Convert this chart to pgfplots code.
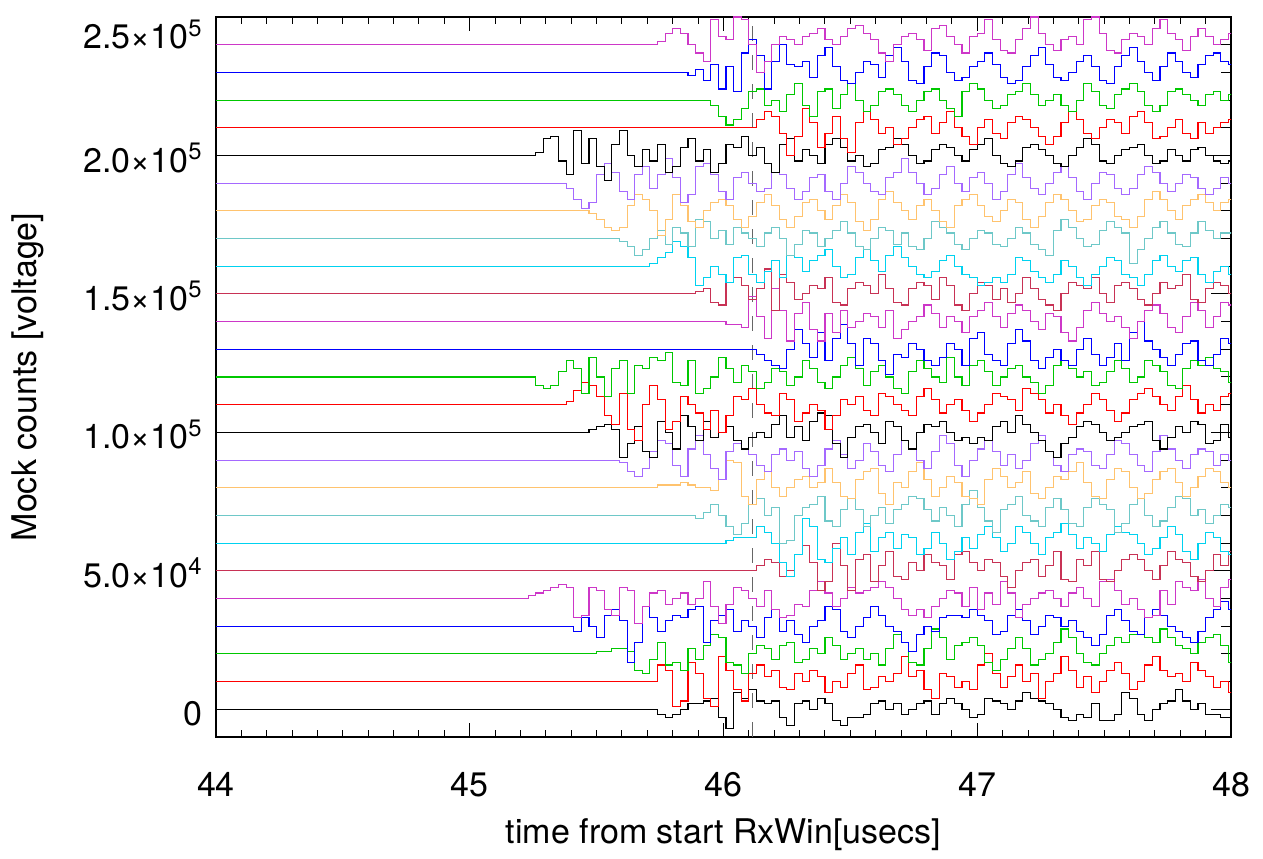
\documentclass[border=0pt]{standalone}
\usepackage{fontspec}
\setmainfont{TeX Gyre Heros}
\usepackage{pgfplots}
\usepackage{pgfplotstable}
\pgfplotsset{compat=1.18}

\definecolor{c0}{RGB}{0,0,0}
\definecolor{c1}{RGB}{255,0,0}
\definecolor{c2}{RGB}{0,200,0}
\definecolor{c3}{RGB}{0,0,255}
\definecolor{c4}{RGB}{205,55,200}
\definecolor{c5}{RGB}{200,50,85}
\definecolor{c6}{RGB}{0,210,240}
\definecolor{c7}{RGB}{110,200,200}
\definecolor{c8}{RGB}{255,195,110}
\definecolor{c9}{RGB}{165,105,255}
\newcommand\lblfont{\fontsize{17}{20}\selectfont}

% one row per trace (values in units of 1000), transposed below
\pgfplotstableread[header=false, row sep=\\]{
t 44
 45.20 45.23 45.26 45.29 45.32 45.35 45.38 45.41 45.44 45.47
 45.50 45.53 45.56 45.59 45.62 45.65 45.68 45.71 45.74 45.77
 45.80 45.83 45.86 45.89 45.92 45.95 45.98 46.01 46.04 46.07
 46.10 46.13 46.16 46.19 46.22 46.25 46.28 46.31 46.34 46.37
 46.40 46.43 46.46 46.49 46.52 46.55 46.58 46.61 46.64 46.67
 46.70 46.73 46.76 46.79 46.82 46.85 46.88 46.91 46.94 46.97
 47.00 47.03 47.06 47.09 47.12 47.15 47.18 47.21 47.24 47.27
 47.30 47.33 47.36 47.39 47.42 47.45 47.48 47.51 47.54 47.57
 47.60 47.63 47.66 47.69 47.72 47.75 47.78 47.81 47.84 47.87
 47.90 47.93 47.96 47.99
 48.05 \\
s0 0
 0 0 0 0 0 0 0 0 0 0
 0 0 0 0 0 0 0 0 -2 -3
 -2 0 2 2 3 4 -3 -7 6 4
 7 3 2 3 -3 -6 2 3 0 4
 2 -4 -6 -3 -3 -2 2 3 0 2
 -2 0 2 3 -2 2 4 2 0 -3
 -2 4 3 2 0 3 6 4 3 2
 0 -3 -4 -2 -3 2 -4 -4 -2 6
 4 -2 -4 0 2 3 7 3 0 2
 -2 -2 -3 -3
 -3 \\
s1 10
 10 10 10 10 10 10 10 10 10 10
 10 10 10 10 10 10 10 10 16 14
 1 3 17 13 4 1 19 14 7 3
 13 16 12 14 8 7 13 10 14 12
 6 10 8 13 16 7 8 12 10 13
 19 12 14 7 4 13 12 8 10 7
 16 20 13 8 12 16 10 13 4 10
 13 19 14 8 12 6 10 14 17 13
 7 10 16 19 14 12 13 10 17 14
 12 8 10 6
 6 \\
s2 20
 20 20 20 20 20 20 20 20 20 20
 21 21 22 22 21 14 13 18 24 16
 17 14 22 18 23 27 26 17 16 13
 20 23 22 18 23 24 17 18 22 20
 26 23 18 20 22 18 20 16 22 27
 24 17 16 22 29 26 18 23 24 26
 23 17 14 18 22 26 22 16 18 20
 24 29 26 20 17 16 20 23 26 24
 27 27 26 24 29 26 23 22 20 24
 26 27 23 17
 17 \\
s3 30
 30 30 30 30 30 30 30 28 33 30
 26 34 36 32 17 24 37 33 28 32
 34 33 36 37 24 32 34 36 28 32
 30 26 33 36 28 32 27 24 30 32
 37 36 28 26 30 33 37 34 30 28
 24 21 27 30 28 33 34 34 33 36
 34 32 27 28 34 36 32 27 30 34
 33 30 32 28 26 23 27 34 36 32
 28 27 33 36 34 30 28 26 24 28
 33 36 39 36
 36 \\
s4 40
 40 41 42 43 44 45 44 33 34 44
 43 36 34 44 43 31 37 42 43 38
 40 42 38 40 46 37 31 38 44 43
 40 37 43 36 33 34 38 37 43 46
 42 37 40 44 42 43 44 46 44 40
 36 34 36 33 37 40 43 42 37 44
 36 42 38 46 42 33 38 40 42 43
 40 37 42 44 40 37 46 47 43 38
 40 36 33 34 43 38 46 44 43 47
 40 37 44 47
 47 \\
s5 50
 50 50 50 50 50 50 50 50 50 50
 50 50 50 50 50 50 50 50 50 50
 50 50 50 50 50 50 50 50 50 50
 50 52 54 53 48 50 56 59 53 43
 46 60 52 43 54 56 46 52 57 48
 47 53 50 56 53 52 47 56 57 53
 50 54 53 48 44 50 53 54 48 52
 57 47 46 54 52 57 47 46 50 54
 56 54 50 47 52 57 54 53 48 46
 50 56 52 57
 57 \\
s6 60
 60 60 60 60 60 60 60 60 60 60
 60 60 60 60 60 60 60 60 60 60
 60 60 60 60 60 60 60 61 62 62
 62 66 64 60 53 48 56 69 66 54
 53 58 62 56 64 67 57 62 64 58
 63 62 56 58 64 60 54 57 62 58
 63 66 62 57 60 66 64 60 56 62
 64 67 63 58 62 60 57 63 66 64
 63 60 56 58 62 66 63 57 54 60
 64 62 57 56
 56 \\
s7 70
 70 70 70 70 70 70 70 70 70 70
 70 70 70 70 70 70 70 70 70 70
 70 70 70 69 71 74 70 66 63 67
 74 76 70 73 60 61 70 73 74 77
 68 66 72 76 72 66 70 73 67 72
 74 77 76 72 68 73 70 66 74 79
 73 68 64 72 74 77 70 68 66 73
 76 72 67 66 73 76 74 72 64 67
 74 76 70 66 68 73 77 76 70 72
 67 70 74 73
 73 \\
s8 80
 80 80 80 80 80 80 80 80 80 80
 80 80 80 80 80 80 80 80 81 81
 81 82 81 80 80 79 83 90 89 77
 74 83 86 80 77 80 83 84 80 82
 87 82 77 76 83 86 87 78 74 82
 80 86 89 83 77 80 84 82 77 76
 74 83 87 84 80 82 86 78 76 80
 84 83 86 89 82 77 76 83 87 86
 80 76 78 83 86 87 82 77 80 84
 87 86 82 80
 80 \\
s9 90
 90 90 90 90 90 90 90 90 90 90
 90 90 90 89 86 84 87 93 97 96
 88 84 94 99 92 87 83 93 96 94
 92 88 86 92 94 90 93 87 84 88
 94 97 92 87 90 96 93 88 86 92
 97 94 90 87 93 99 96 88 84 90
 94 97 93 88 92 87 90 96 99 93
 88 86 92 94 93 88 87 92 97 96
 92 88 86 93 99 94 90 87 92 94
 93 88 92 90
 90 \\
s10 100
 100 100 100 100 100 100 100 100 100 101
 102 103 101 91 96 102 93 91 104 100
 94 106 102 97 104 98 100 102 97 94
 98 100 98 103 106 98 102 97 104 107
 106 96 91 98 102 103 100 96 104 102
 97 94 100 103 102 104 100 97 98 96
 98 97 102 104 100 106 103 100 97 93
 91 96 98 102 104 103 100 97 98 100
 102 103 104 97 94 98 102 100 104 103
 96 97 103 98
 98 \\
s11 110
 110 110 110 110 110 110 111 115 118 117
 113 106 103 114 101 97 110 117 112 101
 104 113 110 107 101 108 100 106 113 112
 116 110 107 106 114 112 104 107 110 108
 101 106 112 110 113 108 106 114 113 110
 108 106 113 116 112 107 110 112 108 104
 107 110 114 113 112 108 116 114 112 107
 110 106 103 107 110 114 112 108 104 107
 112 114 116 113 110 108 113 117 112 107
 110 108 113 114
 114 \\
s12 120
 120 120 117 116 117 122 126 123 114 127
 120 113 123 126 114 124 123 127 126 129
 118 117 126 114 116 120 127 123 118 124
 122 116 118 123 122 117 120 126 123 118
 116 120 124 127 123 117 122 124 120 116
 114 122 126 123 120 118 127 120 117 124
 126 122 117 120 123 124 120 118 114 117
 124 126 123 120 122 117 118 122 126 123
 118 120 126 124 122 117 116 123 126 124
 127 123 122 118
 118 \\
s13 130
 130 130 130 130 130 130 130 130 130 130
 130 130 130 130 130 130 130 130 130 130
 130 130 130 130 130 130 130 130 130 130
 130 128 126 124 123 130 137 132 127 136
 126 134 139 132 124 134 132 126 121 128
 127 132 130 126 124 127 132 130 124 134
 136 128 126 124 132 137 133 126 123 127
 130 126 124 130 134 128 124 127 132 126
 136 140 133 130 127 124 128 132 133 126
 124 128 134 132
 132 \\
s14 140
 140 140 140 140 140 140 140 140 140 140
 140 140 140 140 140 140 140 140 140 140
 140 140 140 140 140 140 140 139 139 138
 149 142 134 152 144 133 143 147 137 133
 143 136 144 138 140 143 142 138 144 134
 137 140 142 146 143 138 142 140 136 142
 144 147 142 138 143 146 144 140 137 143
 142 136 133 138 144 147 143 140 142 138
 134 140 144 146 143 138 136 142 147 144
 138 142 147 146
 146 \\
s15 150
 150 150 150 150 150 150 150 150 150 150
 150 150 150 150 150 150 150 150 150 150
 150 150 150 151 152 147 146 154 156 153
 148 152 159 144 157 154 148 150 153 152
 156 147 146 152 154 153 150 157 152 147
 146 152 154 153 148 156 153 146 144 150
 154 153 148 152 147 150 156 152 148 146
 144 150 154 153 152 156 150 147 153 154
 152 148 146 150 154 152 153 157 148 147
 152 154 153 150
 150 \\
s16 160
 160 160 160 160 160 160 160 160 160 160
 160 160 160 160 160 160 160 161 163 165
 169 167 163 153 156 160 157 154 163 164
 157 154 158 162 156 164 163 158 162 164
 166 160 156 157 163 166 162 158 164 167
 163 160 157 156 158 162 164 160 157 156
 153 154 156 154 157 163 162 158 156 154
 157 162 160 156 153 157 160 163 162 157
 156 153 157 162 164 160 158 162 163 157
 154 158 160 157
 157 \\
s17 170
 170 170 170 170 170 170 170 170 170 170
 170 170 170 169 167 164 166 170 173 168
 174 172 167 177 176 170 173 168 174 172
 170 167 172 174 170 164 168 173 172 167
 170 173 176 172 167 166 170 174 173 168
 172 167 166 170 176 174 172 168 166 170
 173 172 168 167 170 174 172 168 166 164
 173 177 174 170 167 168 173 176 174 172
 161 166 170 174 176 172 168 167 172 176
 173 170 172 172
 172 \\
s18 180
 180 180 180 180 180 180 180 180 180 179
 177 174 173 174 182 186 184 180 171 177
 186 182 176 174 180 183 184 182 177 174
 178 183 186 182 177 174 178 183 184 180
 177 182 186 183 176 173 177 184 187 183
 180 177 182 184 180 176 174 182 184 186
 182 178 176 180 184 183 177 174 178 183
 186 184 180 176 177 182 184 183 178 177
 174 178 184 187 184 180 177 182 184 186
 183 180 183 184
 184 \\
s19 190
 190 190 190 190 190 190 188 184 181 183
 193 197 194 187 184 193 196 188 193 199
 192 183 186 196 197 193 187 184 192 194
 190 187 188 194 193 188 184 187 192 193
 187 184 190 196 194 190 187 186 192 194
 199 194 190 186 188 193 196 190 187 192
 194 190 184 187 193 197 192 188 186 190
 194 196 192 187 184 190 194 193 188 186
 188 193 196 194 190 187 190 193 192 188
 186 188 192 190
 190 \\
s20 200
 200 200 201 206 207 198 193 209 197 206
 196 191 204 209 200 196 202 198 204 194
 196 203 206 198 202 194 197 204 203 207
 200 203 197 194 204 206 198 202 200 197
 204 206 203 198 200 196 197 202 203 206
 204 200 197 198 202 204 203 200 198 202
 204 206 200 197 196 198 203 204 202 200
 197 196 200 203 206 204 198 197 200 202
 203 204 200 197 198 202 200 198 202 203
 200 198 197 198
 198 \\
s21 210
 210 210 210 210 210 210 210 210 210 210
 210 210 210 210 210 210 210 210 210 210
 210 210 210 210 210 210 210 210 210 210
 210 213 216 214 208 200 207 217 212 203
 208 214 206 201 212 216 213 208 210 204
 206 210 213 214 208 212 216 210 207 204
 210 213 208 206 212 214 213 210 207 204
 207 212 216 213 208 206 210 213 212 208
 214 216 212 206 207 210 213 208 206 212
 208 210 212 213
 213 \\
s22 220
 220 220 220 220 220 220 220 220 220 220
 220 220 220 220 220 220 220 220 220 220
 220 220 220 220 220 218 214 211 213 217
 223 224 218 220 216 222 226 218 214 223
 224 217 222 226 220 216 218 223 224 222
 218 216 220 223 224 220 217 214 223 226
 224 220 217 218 222 223 226 222 218 220
 222 218 216 220 226 223 218 217 222 224
 226 223 218 216 218 223 224 222 220 218
 222 223 220 222
 222 \\
s23 230
 230 230 230 230 230 230 230 230 230 230
 230 230 230 230 230 230 230 230 230 230
 230 230 229 231 227 233 224 232 223 237
 242 236 224 234 240 233 232 234 228 236
 239 232 227 226 230 234 233 228 236 239
 234 227 226 232 237 236 230 227 228 232
 234 237 233 228 226 227 232 236 239 233
 228 227 230 234 236 232 227 226 232 236
 239 234 230 227 232 237 234 230 228 233
 236 237 234 233
 233 \\
s24 240
 240 240 240 240 240 240 240 240 240 240
 240 240 240 240 240 240 240 240 241 244
 246 244 240 237 234 249 243 242 250 249
 240 230 234 240 243 242 240 243 244 246
 242 240 243 246 247 244 242 237 234 240
 243 244 242 238 246 247 243 240 237 243
 244 249 242 238 237 242 246 250 244 240
 238 242 243 240 249 250 244 238 237 242
 244 243 240 246 249 244 242 238 243 246
 243 240 242 244
 244 \\
}\raw
\pgfplotstabletranspose[colnames from=0]\data\raw

\begin{document}
\begin{tikzpicture}
\begin{axis}[
    name=ax,
    scale only axis,
    width=507.5pt, height=360pt,
    xmin=44, xmax=48, ymin=-10, ymax=250,
    xtick={44,45,46,47,48},
    xticklabels={44,45,46,47,48},
    minor x tick num=9,
    ytick={0,50,100,150,200,250},
    yticklabels={0,{5.0×10\textsuperscript{4}},{1.0×10\textsuperscript{5}},
        {1.5×10\textsuperscript{5}},{2.0×10\textsuperscript{5}},
        {\raisebox{-7.5pt}{2.5×10\textsuperscript{5}}}},
    minor y tick num=4,
    tick align=inside,
    major tick length=10pt, minor tick length=5pt,
    xtick style={/pgfplots/major tick length=7pt, /pgfplots/minor tick length=3.5pt},
    tick style={black, line width=0.5pt},
    axis line style={line width=0.7pt},
    xticklabel style={font=\lblfont, inner sep=0pt, anchor=base, yshift=-30pt},
    yticklabel style={font=\lblfont, inner sep=0pt, anchor=base east, xshift=-6.5pt, yshift=-8.3pt},
    xlabel={time from start RxWin[usecs]},
    ylabel={Mock counts [voltage]},
    every axis x label/.style={at={(axis description cs:0.5,-0.136)}, anchor=center, font=\lblfont},
    every axis y label/.style={at={(axis description cs:-0.185,0.5)}, rotate=90, anchor=center, font=\lblfont},
    every axis plot/.append style={const plot, mark=none, line width=0.55pt},
]
\addplot[black!60, line width=0.8pt, dash pattern=on 7.5pt off 7pt] coordinates {(46.115,-10) (46.115,250)};
\addplot[c0] table[x=t, y=s0] {\data};
\addplot[c1] table[x=t, y=s1] {\data};
\addplot[c2] table[x=t, y=s2] {\data};
\addplot[c3] table[x=t, y=s3] {\data};
\addplot[c4] table[x=t, y=s4] {\data};
\addplot[c5] table[x=t, y=s5] {\data};
\addplot[c6] table[x=t, y=s6] {\data};
\addplot[c7] table[x=t, y=s7] {\data};
\addplot[c8] table[x=t, y=s8] {\data};
\addplot[c9] table[x=t, y=s9] {\data};
\addplot[c0] table[x=t, y=s10] {\data};
\addplot[c1] table[x=t, y=s11] {\data};
\addplot[c2] table[x=t, y=s12] {\data};
\addplot[c3] table[x=t, y=s13] {\data};
\addplot[c4] table[x=t, y=s14] {\data};
\addplot[c5] table[x=t, y=s15] {\data};
\addplot[c6] table[x=t, y=s16] {\data};
\addplot[c7] table[x=t, y=s17] {\data};
\addplot[c8] table[x=t, y=s18] {\data};
\addplot[c9] table[x=t, y=s19] {\data};
\addplot[c0] table[x=t, y=s20] {\data};
\addplot[c1] table[x=t, y=s21] {\data};
\addplot[c2] table[x=t, y=s22] {\data};
\addplot[c3] table[x=t, y=s23] {\data};
\addplot[c4] table[x=t, y=s24] {\data};
\end{axis}
\pgfresetboundingbox
\path ([xshift=-108pt, yshift=-61pt]ax.south west) rectangle ([xshift=16pt, yshift=8.5pt]ax.north east);
\end{tikzpicture}
\end{document}
